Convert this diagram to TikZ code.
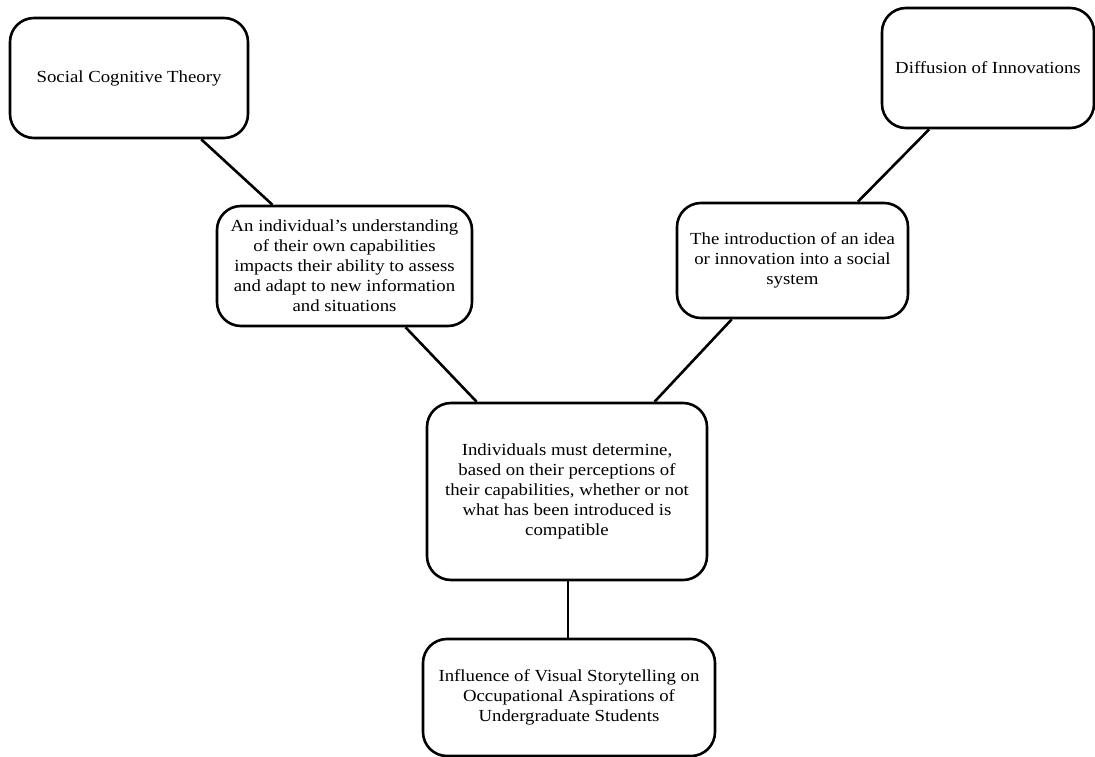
\documentclass[tikz,border=0pt]{standalone}
\usepackage{fontspec}
\setmainfont{Liberation Serif}[FakeStretch=1.11]
\usetikzlibrary{calc}
\begin{document}
\begin{tikzpicture}[x=1bp,y=-1bp,
  box/.style={draw=black, line width=2.6bp, rounded corners=24bp, fill=white, align=center,
    inner sep=0pt, font=\fontsize{17}{20}\selectfont},
  conn/.style={draw=black, line width=2.6bp}]
\useasboundingbox (0,0) rectangle (1095,757);
\node[box, minimum width=238bp, minimum height=120bp] (sct) at (129,78) {Social Cognitive Theory};
\node[box, minimum width=212bp, minimum height=120bp] (doi) at (988,68) {Diffusion of Innovations};
\node[box, minimum width=255bp, minimum height=120bp] (ind) at (344.5,266) {An individual’s understanding\\of their own capabilities\\impacts their ability to assess\\and adapt to new information\\and situations};
\node[box, minimum width=231bp, minimum height=115bp] (intro) at (792.5,260.5) {The introduction of an idea\\or innovation into a social\\system};
\node[box, minimum width=280bp, minimum height=177bp] (must) at (567,491.5) {Individuals must determine,\\based on their perceptions of\\their capabilities, whether or not\\what has been introduced is\\compatible};
\node[box, minimum width=292bp, minimum height=117bp] (infl) at (569,697.5) {Influence of Visual Storytelling on\\Occupational Aspirations of\\Undergraduate Students};
\coordinate (ms) at ($(must.south)+(1,0)$);
\draw[conn] ($(sct.south west)!0.80!(sct.south east)$) -- ($(ind.north west)!0.22!(ind.north east)$);
\draw[conn] ($(ind.south west)!0.737!(ind.south east)$) -- ($(must.north west)!0.18!(must.north east)$);
\draw[conn] ($(doi.south west)!0.226!(doi.south east)$) -- ($(intro.north west)!0.78!(intro.north east)$);
\draw[conn] ($(intro.south west)!0.24!(intro.south east)$) -- ($(must.north west)!0.81!(must.north east)$);
\draw[conn] (ms) -- (ms |- infl.north);
\end{tikzpicture}
\end{document}
